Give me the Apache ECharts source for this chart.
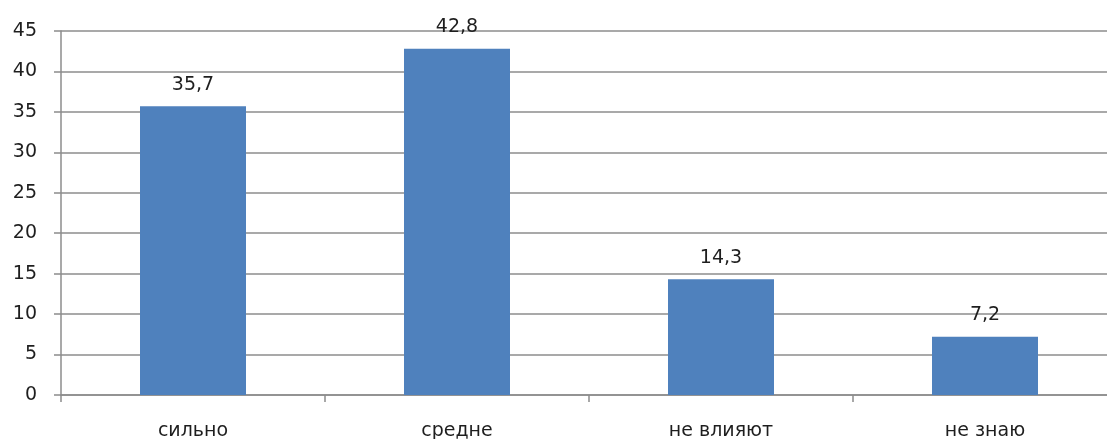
<!DOCTYPE html>
<html><head><meta charset="utf-8">
<script src="https://cdn.jsdelivr.net/npm/echarts@6/dist/echarts.min.js"></script>
<style>html,body{margin:0;padding:0;background:#fff}#c{width:1107px;height:439px}</style>
</head><body><div id="c"></div>
<script>
const categories = ['сильно', 'средне', 'не влияют', 'не знаю'];
const values = [35.7, 42.8, 14.3, 7.2];
const yTicks = { min: 0, max: 45, interval: 5 };

const chart = echarts.init(document.getElementById('c'), null, { renderer: 'canvas' });
const font = 'DejaVu Sans';
chart.setOption({
  animation: false,
  backgroundColor: '#fff',
  grid: { left: 61, top: 31, width: 1056, height: 364, containLabel: false, outerBoundsMode: 'none' },
  xAxis: {
    type: 'category', data: categories,
    axisLine: { lineStyle: { color: '#8c8c8c', width: 1.5 } },
    axisTick: { show: true, alignWithLabel: false, length: 7, lineStyle: { color: '#8c8c8c', width: 1.5 } },
    axisLabel: { color: '#1e1e1e', fontFamily: font, fontSize: 19, margin: 27 }
  },
  yAxis: {
    type: 'value', min: yTicks.min, max: yTicks.max, interval: yTicks.interval,
    axisLine: { show: true, lineStyle: { color: '#8c8c8c', width: 1.5 } },
    axisTick: { show: true, length: 7, lineStyle: { color: '#8c8c8c', width: 1.5 } },
    splitLine: { lineStyle: { color: '#8c8c8c', width: 1.5 } },
    axisLabel: { color: '#1e1e1e', fontFamily: font, fontSize: 19, margin: 24 }
  },
  series: [{
    type: 'bar', data: values, barWidth: 106,
    itemStyle: { color: '#4F81BD' },
    label: { show: true, position: 'top', distance: 12, color: '#1e1e1e', fontFamily: font, fontSize: 19,
      formatter: p => String(p.value).replace('.', ',') }
  }]
});
</script></body></html>
